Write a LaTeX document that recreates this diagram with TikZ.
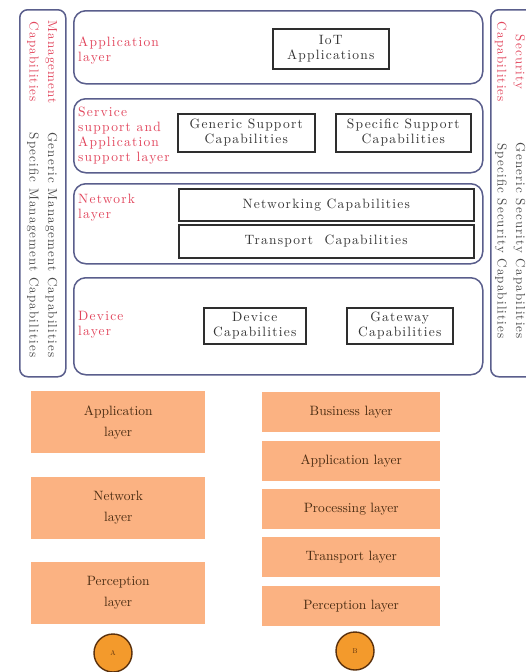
\documentclass[tikz,border=0pt]{standalone}
\usepackage{fontspec}
\usepackage{tikz}
\usepackage{xcolor}
\usetikzlibrary{positioning, calc}
\setmainfont{lmroman10-regular.otf}[BoldFont=lmroman10-bold.otf,
    ItalicFont=lmroman10-italic.otf]
\newfontfamily\spacedfamily{lmroman10-regular.otf}[LetterSpace=9]
\definecolor{LayerLine}{HTML}{5A5E8C}
\definecolor{LabelRed}{HTML}{E2455C}
\definecolor{CapLine}{HTML}{2E2E2E}
\definecolor{CapText}{HTML}{333333}
\definecolor{SideText}{HTML}{4A4A4A}
\definecolor{SlabFill}{HTML}{FBB282}
\definecolor{SlabText}{HTML}{4A2C12}
\definecolor{TagFill}{HTML}{F39A2C}
\definecolor{TagLine}{HTML}{5A300C}
\newcommand{\capfont}{\spacedfamily\fontsize{13.5}{15}\selectfont}
\newcommand{\sidefont}{\spacedfamily\fontsize{13}{18.5}\selectfont}
\newcommand{\slabfont}{\fontsize{13.5}{21}\selectfont}

\begin{document}
\begin{tikzpicture}[
    x=1pt, y=-1pt,
    layer/.style={
        rectangle, rounded corners=12pt, draw=LayerLine, line width=1.5pt,
        inner sep=0pt, anchor=north west
    },
    sidebox/.style={layer, rounded corners=8pt},
    capbox/.style={
        rectangle, draw=CapLine, line width=1.5pt, inner sep=0pt,
        anchor=north west, font=\capfont, text=CapText, align=center
    },
    lname/.style={font=\capfont, text=LabelRed, align=left,
                  anchor=north west, inner sep=0pt},
    sidetext/.style={font=\sidefont, align=center, rotate=-90, inner sep=0pt},
    slab/.style={
        rectangle, fill=SlabFill, inner sep=0pt, font=\slabfont,
        text=SlabText, align=center
    },
    slabA/.style={slab, minimum width=174pt, minimum height=62pt},
    slabB/.style={slab, minimum width=178pt, minimum height=40pt},
    tag/.style={circle, fill=TagFill, draw=TagLine, line width=1.4pt,
                minimum size=38pt, inner sep=0pt, font=\fontsize{7}{8}\selectfont,
                text=TagLine},
    node distance=8pt
]
\useasboundingbox (0,0) rectangle (526,672);
\clip (0,0) rectangle (526,672);
\fill[white] (0,0) rectangle (526,672);

% ===================================================================
% SIDE COLUMNS
% ===================================================================
\node[sidebox, minimum width=46pt, minimum height=367pt] (mgmt) at (19,9) {};
\node[sidetext, text=LabelRed] (mgmtname) at (42,62)
    {Management\\Capabilities};
\node[sidetext, text=SideText] (mgmtcaps) at (42,245)
    {Generic Management Capabilities\\Specific Management Capabilities};

\node[sidebox, minimum width=52pt, minimum height=367pt] (sec) at (490,9) {};
\node[sidetext, text=LabelRed] (secname) at (510,62)
    {Security\\Capabilities};
\node[sidetext, text=SideText] (seccaps) at (510,241)
    {Generic Security Capabilities\\Specific Security Capabilities};

% ===================================================================
% LAYERS
% ===================================================================
\node[layer, minimum width=409pt, minimum height=73pt] (app) at (73,10) {};
\node[lname] (appname) at (78,37) {Application\\layer};
\node[capbox, minimum width=116pt, minimum height=40pt] (iot) at (272,28)
    {IoT\\Applications};

\node[layer, minimum width=409pt, minimum height=74pt] (svc) at (73,98) {};
\node[lname] (svcname) at (78,107)
    {Service\\support and\\Application\\support layer};
\node[capbox, minimum width=137pt, minimum height=38pt] (gensup) at (177,113)
    {Generic Support\\Capabilities};
\node[capbox, minimum width=135pt, minimum height=38pt] (specsup) at (335,113)
    {Specific Support\\Capabilities};

\node[layer, minimum width=409pt, minimum height=80pt] (net) at (73,183) {};
\node[lname] (netname) at (78,194) {Network\\layer};
\node[capbox, minimum width=295pt, minimum height=32pt] (netcap) at (178,188)
    {Networking Capabilities};
\node[capbox, minimum width=295pt, minimum height=33pt] (trancap) at (178,224)
    {Transport~~Capabilities};

\node[layer, minimum width=409pt, minimum height=97pt] (dev) at (73,277) {};
\node[lname] (devname) at (78,311) {Device\\layer};
\node[capbox, minimum width=102pt, minimum height=36pt] (devcap) at (203,307)
    {Device\\Capabilities};
\node[capbox, minimum width=106pt, minimum height=36pt] (gwcap) at (346,307)
    {Gateway\\Capabilities};

% ===================================================================
% MODEL A
% ===================================================================
\node[slabA, anchor=north west] (appA) at (31,391) {Application\\layer};
\node[slabA, below=23pt of appA] (netA) {Network\\layer};
\node[slabA, below=23pt of netA] (perA) {Perception\\layer};
\node[tag] (tagA) at (113,653) {A};

% ===================================================================
% MODEL B
% ===================================================================
\node[slabB, anchor=north west] (busB) at (262,392) {Business layer};
\node[slabB, below=of busB] (appB) {Application layer};
\node[slabB, below=of appB] (proB) {Processing layer};
\node[slabB, below=of proB] (traB) {Transport layer};
\node[slabB, below=of traB] (perB) {Perception layer};
\node[tag] (tagB) at (355,651) {B};

\end{tikzpicture}
\end{document}
